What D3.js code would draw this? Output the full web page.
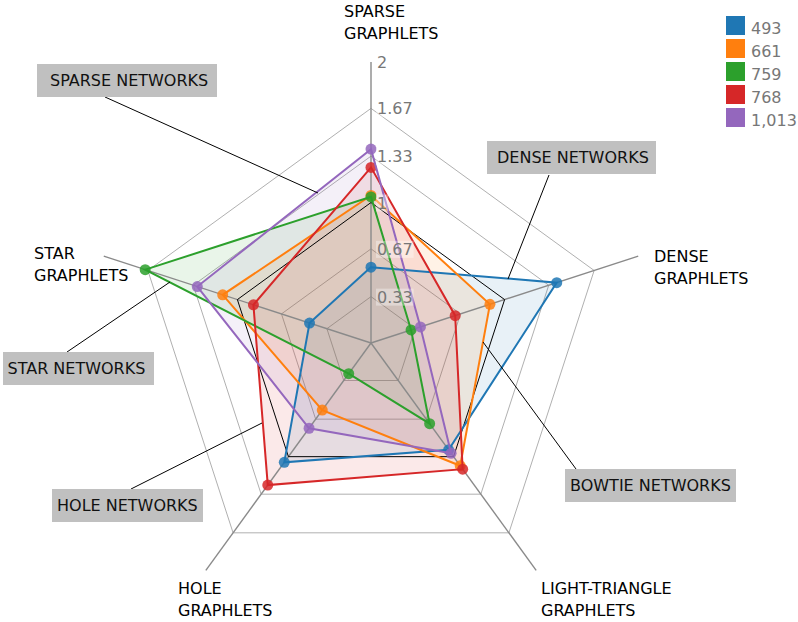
<!DOCTYPE html>
<html><head><meta charset="utf-8">
<script src="https://cdn.jsdelivr.net/npm/d3@7"></script>
<style>body{margin:0;background:#fff}svg{display:block;font-family:"DejaVu Sans",sans-serif}</style>
</head><body><svg id="c" width="798" height="622"></svg>
<script>
// ---- data ----
const axesLabels = [["SPARSE","GRAPHLETS"],["DENSE","GRAPHLETS"],["LIGHT-TRIANGLE","GRAPHLETS"],["HOLE","GRAPHLETS"],["STAR","GRAPHLETS"]];
const seriesNames = ["493","661","759","768","1,013"];
const s493  = [0.54, 1.39, 0.94, 1.05, 0.46];
const s661  = [1.05, 0.89, 1.08, 0.59, 1.11];
const s759  = [1.04, 0.30, 0.71, 0.27, 1.69];
const s768  = [1.25, 0.63, 1.11, 1.25, 0.88];
const s1013 = [1.38, 0.37, 0.97, 0.75, 1.30];
const tickValues = [0.33, 0.67, 1, 1.33, 1.67, 2];
const tickLabels = ["0.33","0.67","1","1.33","1.67","2"];
const gridLevels = [0.33, 0.67, 1.33, 1.67];
const baselineLevel = 1;
const annotations = ["SPARSE NETWORKS","DENSE NETWORKS","BOWTIE NETWORKS","STAR NETWORKS","HOLE NETWORKS"];

// ---- layout ----
const colors = ["#1f77b4","#ff7f0e","#2ca02c","#d62728","#9467bd"];
const series = [s493, s661, s759, s768, s1013];
const cx = 371, cy = 343;
const r = d3.scaleLinear().domain([0, 2]).range([0, 281]);
const ang = d3.scaleLinear().domain([0, 5]).range([0, 2*Math.PI]);
const svg = d3.select("#c");
const radial = d3.lineRadial().angle((d,i)=>ang(i)).radius(d=>r(d)).curve(d3.curveLinearClosed);
const g = svg.append("g").attr("transform",`translate(${cx},${cy})`);

// grid pentagons
g.selectAll(".grid").data(gridLevels).join("path")
  .attr("d", l => radial(d3.range(5).map(()=>l)))
  .attr("fill","none").attr("stroke","#b0b0b0").attr("stroke-width",1);

// fills
g.selectAll(".fill").data(series).join("path")
  .attr("d", d => radial(d)).attr("fill",(d,i)=>colors[i]).attr("fill-opacity",0.1).attr("stroke","none");

// axis lines
g.selectAll(".ax").data(d3.range(5)).join("line")
  .attr("x1",0).attr("y1",0)
  .attr("x2",i=>r(2)*Math.sin(ang(i))).attr("y2",i=>-r(2)*Math.cos(ang(i)))
  .attr("stroke","#8a8a8a").attr("stroke-width",1.4);

// baseline pentagon
g.append("path").attr("d", radial(d3.range(5).map(()=>baselineLevel)))
  .attr("fill","none").attr("stroke","#000").attr("stroke-width",1);

// annotations
const annLayout = [
  {bx:37, by:64, bw:180, tx:50, lx1:105, ly1:97, lx2:318, ly2:193},
  {bx:487, by:141, bw:169, tx:497, lx1:549, ly1:175, lx2:508, ly2:279},
  {bx:565, by:469, bw:171, tx:570, lx1:576, ly1:469, lx2:483, ly2:342},
  {bx:3, by:352, bw:151, tx:7.5, lx1:67, ly1:352, lx2:170, ly2:282},
  {bx:52, by:489, bw:151, tx:57, lx1:131, ly1:489, lx2:262, ly2:423}
];
annotations.forEach((t,i)=>{
  const L = annLayout[i];
  svg.append("line").attr("x1",L.lx1).attr("y1",L.ly1).attr("x2",L.lx2).attr("y2",L.ly2)
    .attr("stroke","#000").attr("stroke-width",1);
  svg.append("rect").attr("x",L.bx).attr("y",L.by).attr("width",L.bw).attr("height",33).attr("fill","#c0c0c0");
  svg.append("text").attr("x",L.tx).attr("y",L.by+22).attr("font-size",16).attr("fill","#111").text(t);
});

// series lines + markers
series.forEach((s,i)=>{
  g.append("path").attr("d",radial(s)).attr("fill","none").attr("stroke",colors[i]).attr("stroke-width",2);
  g.selectAll(null).data(s).join("circle")
    .attr("cx",(d,j)=>r(d)*Math.sin(ang(j))).attr("cy",(d,j)=>-r(d)*Math.cos(ang(j)))
    .attr("r",5.5).attr("fill",colors[i]).attr("fill-opacity",0.85);
});

// tick labels
tickValues.forEach((v,i)=>{
  const y = cy - r(v);
  const t = svg.append("text").attr("x",377).attr("y",y+6).attr("font-size",16).attr("fill","#777").text(tickLabels[i]);
  const bb = t.node().getBBox();
  svg.insert("rect","text:last-of-type").attr("x",bb.x-1).attr("y",bb.y+1).attr("width",bb.width+2).attr("height",bb.height-2)
    .attr("fill","#fff").attr("fill-opacity",0.35);
  t.raise();
});

// axis labels
const labPos = [[344,17],[654,262],[541,594],[178,594],[34,259]];
axesLabels.forEach((lines,i)=>{
  const t = svg.append("text").attr("font-size",16).attr("fill","#000");
  lines.forEach((s,k)=>t.append("tspan").attr("x",labPos[i][0]).attr("y",labPos[i][1]+22*k).text(s));
});

// legend
seriesNames.forEach((n,i)=>{
  const y = 16 + 23*i;
  svg.append("rect").attr("x",726).attr("y",y).attr("width",19).attr("height",19).attr("fill",colors[i]);
  svg.append("text").attr("x",751).attr("y",y+18).attr("font-size",16).attr("fill","#777").text(n);
});
</script></body></html>
